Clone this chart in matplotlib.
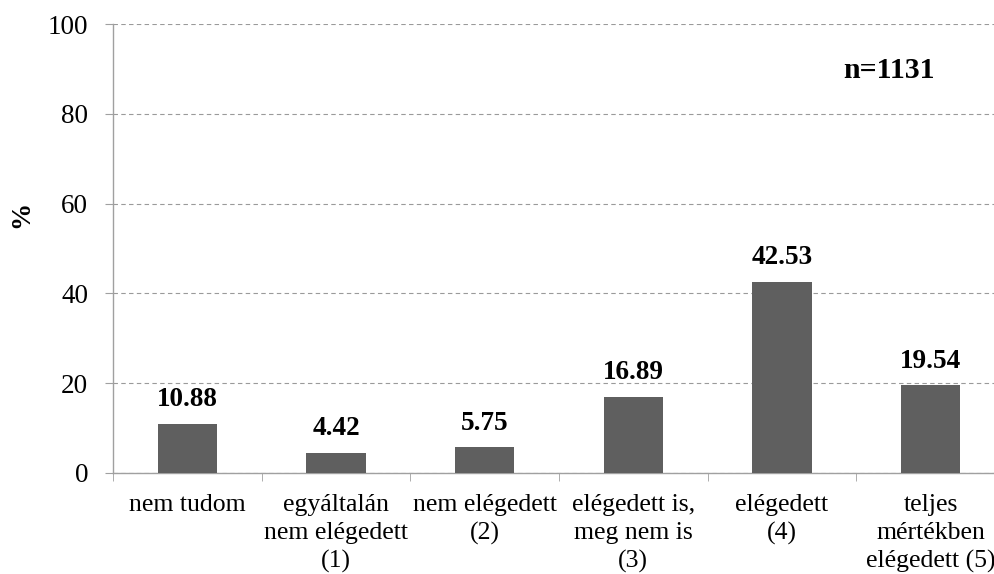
import matplotlib
matplotlib.use("Agg")
import matplotlib.pyplot as plt
import numpy as np

categories = ["nem tudom", "egyáltalán\nnem elégedett\n(1)", "nem elégedett\n(2)",
              "elégedett is,\nmeg nem is\n(3)", "elégedett\n(4)", "teljes\nmértékben\nelégedett (5)"]
values = [10.88, 4.42, 5.75, 16.89, 42.53, 19.54]
yticks = [0, 20, 40, 60, 80, 100]

plt.rcParams["font.family"] = ["Liberation Serif", "DejaVu Serif"]

fig = plt.figure(figsize=(9.94, 5.74), dpi=100)
# plot area runs slightly past the right edge of the canvas
ax = fig.add_axes([113 / 994, 1 - 473 / 574, 892 / 994, 449 / 574])

x = np.arange(len(categories))
ax.bar(x, values, width=0.40, color="#5f5f5f", zorder=3)
for xi, v in zip(x, values):
    ax.text(xi, v + 2.6, f"{v:.2f}", ha="center", va="bottom", fontsize=19.5,
            fontweight="bold", color="black")

ax.set_xlim(-0.5, len(categories) - 0.5)
ax.set_ylim(0, 100)
ax.set_yticks(yticks)
ax.set_yticklabels([str(t) for t in yticks], fontsize=19.5)
ax.yaxis.grid(True, linestyle=(0, (4, 3)), color="#9a9a9a", linewidth=0.8, zorder=0)

ax.set_xticks(x)
ax.set_xticklabels(categories, fontsize=18.5, linespacing=1.34)
ax.tick_params(axis="x", length=0, pad=15)
ax.set_xticks(np.arange(-0.5, len(categories), 1.0), minor=True)
ax.tick_params(axis="x", which="minor", length=6, color="#a0a0a0", direction="out")
ax.tick_params(axis="y", length=6, color="#a0a0a0", direction="out", pad=12)

for s in ["top", "right"]:
    ax.spines[s].set_visible(False)
for s in ["left", "bottom"]:
    ax.spines[s].set_color("#a0a0a0")
    ax.spines[s].set_linewidth(1.0)

fig.text(22 / 994, 1 - 214 / 574, "%", rotation=90, ha="center", va="center",
         fontsize=19.5, fontweight="bold")
fig.text(889 / 994, 1 - 70 / 574, "n=1131", ha="center", va="center",
         fontsize=21.5, fontweight="bold")

fig.savefig("out.png", dpi=100)
